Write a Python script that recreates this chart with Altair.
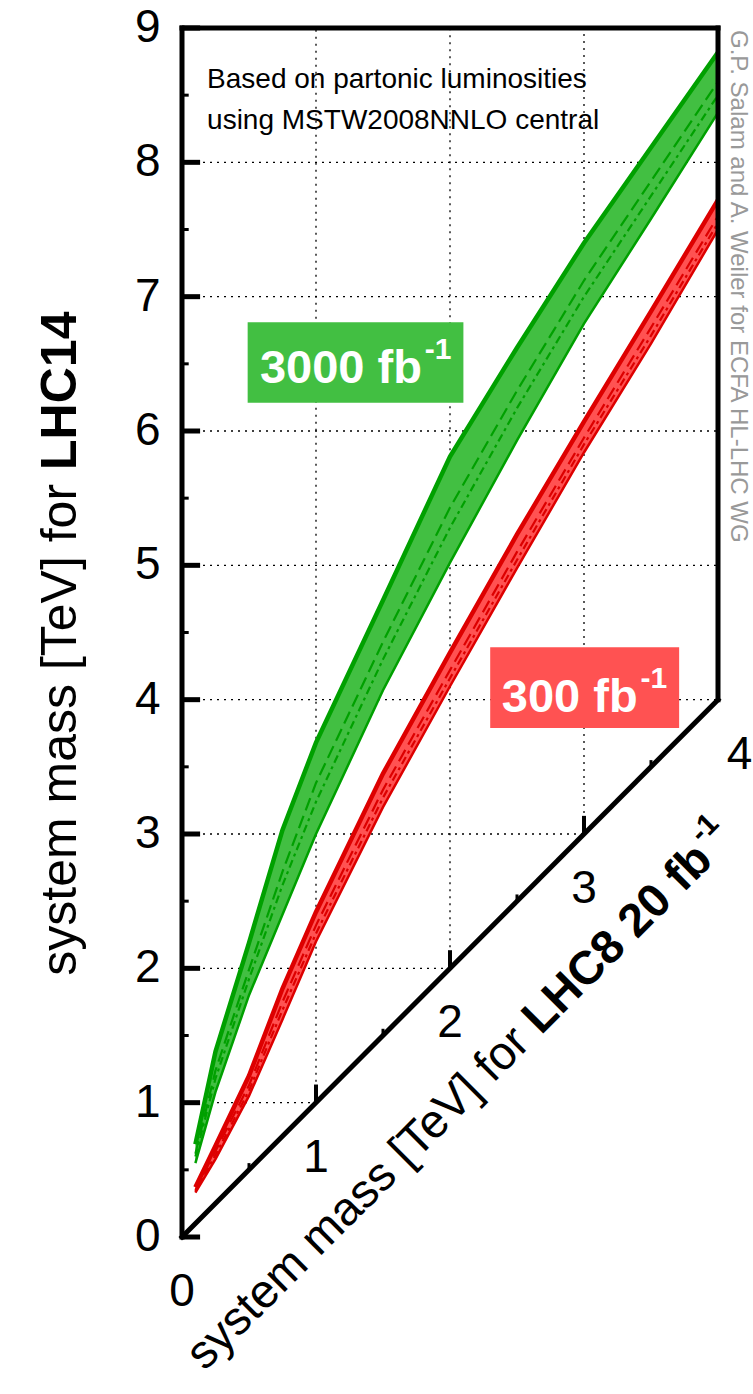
import altair as alt
import pandas as pd

FONT = "Liberation Sans"

# ---------------- data ----------------
mass_lhc8 = [0.1, 0.25, 0.5, 0.75, 1.0, 1.5, 2.0, 2.5, 3.0, 3.5, 4.0]

# 3000 fb^-1 band (LHC14 reach in TeV)
green_upper = [0.69, 1.38, 2.19, 3.03, 3.68, 4.74, 5.81, 6.62, 7.40, 8.11, 8.82]
green_lower = [0.55, 1.08, 1.80, 2.40, 3.00, 4.07, 5.02, 5.93, 6.80, 7.58, 8.37]
green_dash = [0.62, 1.24, 1.99, 2.72, 3.38, 4.43, 5.43, 6.30, 7.12, 7.86, 8.60]
green_dashdot = [0.60, 1.18, 1.92, 2.62, 3.24, 4.30, 5.28, 6.17, 7.00, 7.75, 8.50]

# 300 fb^-1 band
red_upper = [0.37, 0.68, 1.20, 1.85, 2.42, 3.45, 4.35, 5.23, 6.07, 6.89, 7.72]
red_lower = [0.33, 0.58, 1.05, 1.62, 2.20, 3.20, 4.10, 4.98, 5.84, 6.65, 7.50]
red_dash = [0.35, 0.64, 1.13, 1.75, 2.32, 3.33, 4.22, 5.10, 5.95, 6.77, 7.60]
red_dashdot = [0.34, 0.61, 1.09, 1.69, 2.26, 3.27, 4.16, 5.04, 5.90, 6.71, 7.55]

y_ticks = [0, 1, 2, 3, 4, 5, 6, 7, 8, 9]
y_minor = [0.5, 1.5, 2.5, 3.5, 4.5, 5.5, 6.5, 7.5, 8.5]
x_ticks = [0, 1, 2, 3, 4]
x_minor = [0.5, 1.5, 2.5, 3.5]
x_tick_labels = ["0", "1", "2", "3", "4"]

GREEN_FILL = "#42bf42"
GREEN_LINE = "#00a000"
RED_FILL = "#ff5252"
RED_LINE = "#dd0000"

XS = alt.Scale(domain=[0, 4], nice=False, zero=False)
YS = alt.Scale(domain=[0, 9], nice=False, zero=False)


def X(f):
    return alt.X(f, type="quantitative", scale=XS, axis=None)


def Y(f):
    return alt.Y(f, type="quantitative", scale=YS, axis=None)


layers = []

# ---------------- grid (only in region LHC14 >= LHC8) ----------------
grid_rows = []
for v in y_ticks[1:-1]:
    grid_rows.append({"x": 0, "x2": min(v, 4), "y": v, "y2": v})
for v in x_ticks[1:-1]:
    grid_rows.append({"x": v, "x2": v, "y": v, "y2": 9})
grid_df = pd.DataFrame(grid_rows)
layers.append(
    alt.Chart(grid_df).mark_rule(color="black", strokeWidth=1.3, strokeDash=[2, 5]).encode(
        x=X("x"), x2="x2", y=Y("y"), y2="y2"
    )
)


# ---------------- bands ----------------
def band(upper, lower, dash, dashdot, fill, line):
    df = pd.DataFrame({"x": mass_lhc8, "hi": upper, "lo": lower, "d": dash, "dd": dashdot})
    base = alt.Chart(df)
    return [
        base.mark_area(color=fill, opacity=1).encode(x=X("x"), y=Y("lo"), y2="hi"),
        base.mark_line(color=line, strokeWidth=2.5).encode(x=X("x"), y=Y("lo")),
        base.mark_line(color=line, strokeWidth=2.2, strokeDash=[13, 6]).encode(x=X("x"), y=Y("d")),
        base.mark_line(color=line, strokeWidth=2.2, strokeDash=[8, 4, 3, 4]).encode(x=X("x"), y=Y("dd")),
        base.mark_line(color=line, strokeWidth=4.5).encode(x=X("x"), y=Y("hi")),
    ]


layers += band(green_upper, green_lower, green_dash, green_dashdot, GREEN_FILL, GREEN_LINE)
layers += band(red_upper, red_lower, red_dash, red_dashdot, RED_FILL, RED_LINE)

# ---------------- frame ----------------
frame_df = pd.DataFrame(
    [
        {"x": 0, "y": 0, "x2": 0, "y2": 9},
        {"x": 0, "y": 9, "x2": 4, "y2": 9},
        {"x": 4, "y": 9, "x2": 4, "y2": 4},
        {"x": 0, "y": 0, "x2": 4, "y2": 4},
    ]
)
layers.append(
    alt.Chart(frame_df).mark_rule(color="black", strokeWidth=5, strokeCap="square").encode(
        x=X("x"), x2="x2", y=Y("y"), y2="y2"
    )
)

# ticks
tick_rows = []
for v in y_ticks:
    tick_rows.append({"x": 0, "x2": 0.135, "y": v, "y2": v, "w": 5})
for v in y_minor:
    tick_rows.append({"x": 0, "x2": 0.05, "y": v, "y2": v, "w": 3})
for v in x_ticks[1:-1]:
    tick_rows.append({"x": v, "x2": v, "y": v, "y2": v + 0.135, "w": 4})
for v in x_minor:
    tick_rows.append({"x": v, "x2": v, "y": v, "y2": v + 0.05, "w": 3})
tick_df = pd.DataFrame(tick_rows)
layers.append(
    alt.Chart(tick_df).mark_rule(color="black").encode(
        x=X("x"), x2="x2", y=Y("y"), y2="y2",
        strokeWidth=alt.StrokeWidth("w:Q", scale=None, legend=None),
    )
)

# ---------------- tick labels ----------------
ylab_df = pd.DataFrame({"y": y_ticks, "t": [str(v) for v in y_ticks], "x": [-0.16] * len(y_ticks)})
layers.append(
    alt.Chart(ylab_df).mark_text(font=FONT, fontSize=46, align="right", baseline="middle", color="black").encode(
        x=X("x"), y=Y("y"), text="t:N"
    )
)
xlab_df = pd.DataFrame(
    {"x": [0, 1, 2, 3, 4.16], "y": [v - 0.41 for v in x_ticks], "t": x_tick_labels}
)
layers.append(
    alt.Chart(xlab_df).mark_text(font=FONT, fontSize=46, align="center", baseline="middle", color="black").encode(
        x=X("x"), y=Y("y"), text="t:N"
    )
)


# ---------------- texts ----------------
def text_layer(x, y, t, **kw):
    df = pd.DataFrame({"x": [x], "y": [y], "t": [t]})
    props = dict(font=FONT)
    props.update(kw)
    return alt.Chart(df).mark_text(**props).encode(x=X("x"), y=Y("y"), text="t:N")


# y axis title
layers.append(text_layer(-0.90, 5.606, "system mass [TeV] for", fontSize=50, angle=270,
                         align="right", baseline="middle", color="black"))
layers.append(text_layer(-0.90, 5.606, "LHC14", fontSize=50, angle=270, fontWeight="bold",
                         align="left", baseline="middle", color="black", dx=14))

# x axis title (diagonal)
layers.append(text_layer(2.61, 1.43, "system mass [TeV] for", fontSize=47, angle=315,
                         align="right", baseline="alphabetic", color="black"))
layers.append(text_layer(2.61, 1.43, "LHC8 20 fb", fontSize=47, angle=315, fontWeight="bold",
                         align="left", baseline="alphabetic", color="black", dx=13))
layers.append(text_layer(2.61, 1.43, "-1", fontSize=30, angle=315, fontWeight="bold",
                         align="left", baseline="alphabetic", color="black", dx=262, dy=-22))

# info text
layers.append(text_layer(0.187, 8.553, "Based on partonic luminosities", fontSize=28,
                         align="left", baseline="alphabetic", color="black"))
layers.append(text_layer(0.187, 8.248, "using MSTW2008NNLO central", fontSize=28,
                         align="left", baseline="alphabetic", color="black"))

# credit
layers.append(text_layer(4.15, 8.985, "G.P. Salam and A. Weiler for ECFA HL-LHC WG", fontSize=24,
                         angle=90, align="left", baseline="middle", color="#999999"))

# luminosity label boxes
box_df = pd.DataFrame(
    [
        {"x": 0.49, "x2": 2.10, "y": 6.21, "y2": 6.81, "c": GREEN_FILL},
        {"x": 2.30, "x2": 3.71, "y": 3.79, "y2": 4.39, "c": RED_FILL},
    ]
)
layers.append(
    alt.Chart(box_df).mark_rect().encode(
        x=X("x"), x2="x2", y=Y("y"), y2="y2", color=alt.Color("c:N", scale=None, legend=None)
    )
)
layers.append(text_layer(1.79, 6.36, "3000 fb", fontSize=47, fontWeight="bold", align="right",
                         baseline="alphabetic", color="white"))
layers.append(text_layer(1.79, 6.36, "-1", fontSize=30, fontWeight="bold", align="left",
                         baseline="alphabetic", color="white", dx=3, dy=-24))
layers.append(text_layer(3.40, 3.91, "300 fb", fontSize=47, fontWeight="bold", align="right",
                         baseline="alphabetic", color="white"))
layers.append(text_layer(3.40, 3.91, "-1", fontSize=30, fontWeight="bold", align="left",
                         baseline="alphabetic", color="white", dx=3, dy=-24))

chart = (
    alt.layer(*layers)
    .properties(
        width=536,
        height=1209,
        autosize=alt.AutoSizeParams(type="none"),
        padding={"left": 182, "top": 28, "right": 35, "bottom": 157},
        background="white",
    )
    .configure_view(stroke=None)
)

chart.save("out.html", embed_options={"renderer": "svg", "actions": False})
